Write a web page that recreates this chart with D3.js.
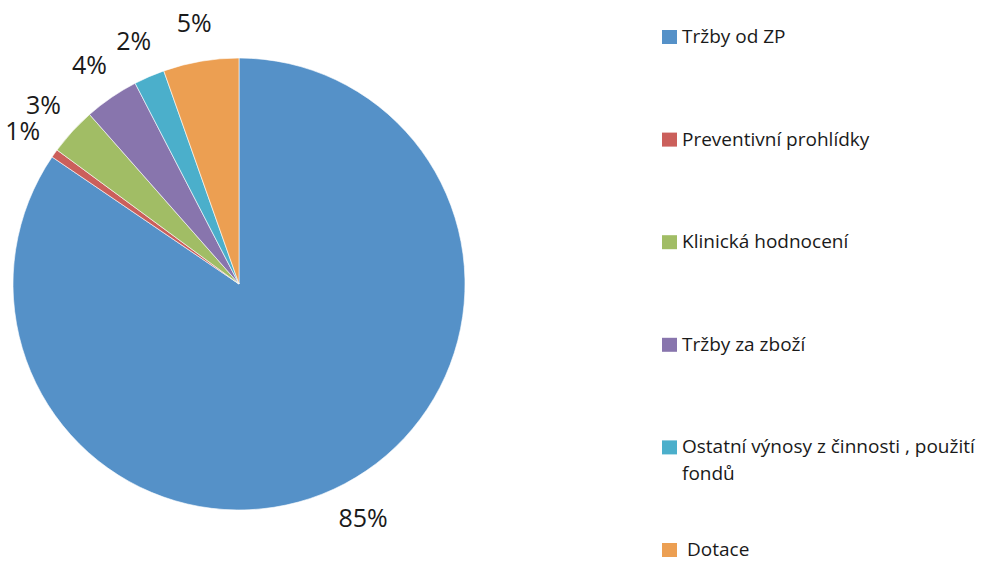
<!DOCTYPE html>
<html>
<head>
<meta charset="utf-8">
<script src="https://cdn.jsdelivr.net/npm/d3@7"></script>
<style>
  body { margin: 0; background: #fff; }
  svg text { font-family: "Open Sans", sans-serif; fill: #1a1a1a; }
</style>
</head>
<body>
<svg width="988" height="562"></svg>
<script>
// slice data, clockwise from 12 o'clock
var categories = ['Tržby od ZP', 'Preventivní prohlídky', 'Klinická hodnocení', 'Tržby za zboží', 'Ostatní výnosy z činnosti , použití fondů', 'Dotace']
var values = [84.5, 0.6, 3.4, 3.9, 2.2, 5.4]
var colors = ['#5591c8', '#cb5f5b', '#a1bd65', '#8875ad', '#4bafcb', '#ec9f52']
// legend lines (the long one wraps in the original)
var legendLines = [['Tržby od ZP'], ['Preventivní prohlídky'], ['Klinická hodnocení'], ['Tržby za zboží'], ['Ostatní výnosy z činnosti , použití', 'fondů'], ['Dotace']]

var data = categories.map(function (c, i) {
  return { name: c, value: values[i], color: colors[i], lines: legendLines[i] }
})

var cx = 239
var cy = 284
var radius = 226

var svg = d3.select('svg')
var g = svg.append('g').attr('transform', 'translate(' + cx + ',' + cy + ')')

var pie = d3.pie().sort(null).value(function (d) { return d.value })
var arc = d3.arc().innerRadius(0).outerRadius(radius)
var labelArc = d3.arc().innerRadius(265).outerRadius(265)

var arcs = pie(data)

g.selectAll('path')
  .data(arcs)
  .enter()
  .append('path')
  .attr('d', arc)
  .attr('fill', function (d) { return d.data.color })
  .attr('stroke', '#fff')
  .attr('stroke-width', 0.6)

g.selectAll('text.lbl')
  .data(arcs)
  .enter()
  .append('text')
  .attr('class', 'lbl')
  .attr('transform', function (d) { return 'translate(' + labelArc.centroid(d) + ')' })
  .attr('text-anchor', 'middle')
  .attr('dy', '0.36em')
  .style('font-size', '25px')
  .text(function (d) { return Math.round(d.data.value) + '%' })

// legend
var legendY = d3.scalePoint().domain(categories).range([37, 550])

var leg = svg.selectAll('g.leg')
  .data(data)
  .enter()
  .append('g')
  .attr('class', 'leg')
  .attr('transform', function (d) { return 'translate(662,' + legendY(d.name) + ')' })

leg.append('rect')
  .attr('x', 0)
  .attr('y', -7)
  .attr('width', 15)
  .attr('height', 14)
  .attr('fill', function (d) { return d.color })

leg.append('text')
  .attr('y', 6)
  .style('font-size', '19px')
  .each(function (d) {
    // the last entry sits a little further right in the original
    var tx = d.name === 'Dotace' ? 25 : 20
    d3.select(this).selectAll('tspan')
      .data(d.lines)
      .enter()
      .append('tspan')
      .attr('x', tx)
      .attr('dy', function (t, i) { return i === 0 ? 0 : 27 })
      .text(function (t) { return t })
  })
</script>
</body>
</html>
